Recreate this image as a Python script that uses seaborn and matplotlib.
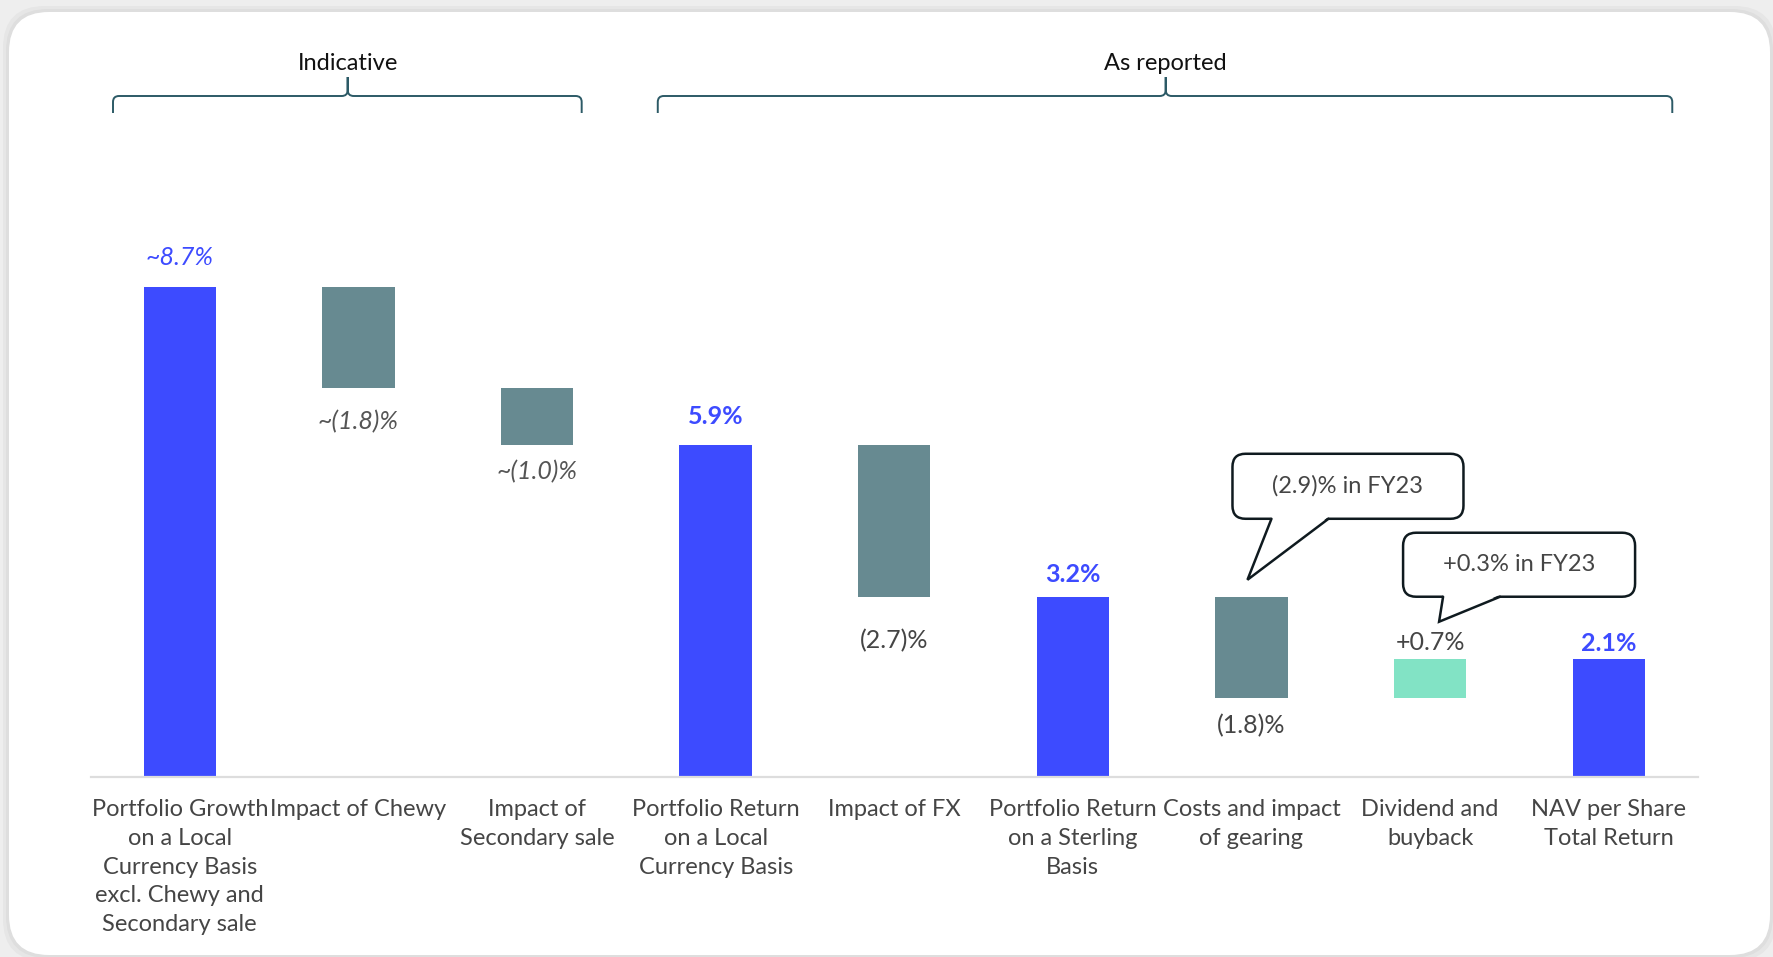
import numpy as np
import pandas as pd
import matplotlib
matplotlib.use("Agg")
import matplotlib.pyplot as plt
import seaborn as sns
from matplotlib.patches import FancyBboxPatch, Polygon, PathPatch
from matplotlib.path import Path
from matplotlib.transforms import IdentityTransform
from matplotlib.lines import Line2D

# ---------------- data ----------------
categories = [
    "Portfolio Growth\non a Local\nCurrency Basis\nexcl. Chewy and\nSecondary sale",
    "Impact of Chewy",
    "Impact of\nSecondary sale",
    "Portfolio Return\non a Local\nCurrency Basis",
    "Impact of FX",
    "Portfolio Return\non a Sterling\nBasis",
    "Costs and impact\nof gearing",
    "Dividend and\nbuyback",
    "NAV per Share\nTotal Return",
]
values = [8.7, -1.8, -1.0, 5.9, -2.7, 3.2, -1.8, 0.7, 2.1]
kinds = ["total", "delta", "delta", "total", "delta", "total", "delta", "delta", "total"]
value_labels = ["~8.7%", "~(1.8)%", "~(1.0)%", "5.9%", "(2.7)%", "3.2%", "(1.8)%", "+0.7%", "2.1%"]
group_names = ["Indicative", "As reported"]
callout_texts = ["(2.9)% in FY23", "+0.3% in FY23"]
callout_bars = [6, 7]

# ---------------- waterfall geometry from the values ----------------
bottoms, heights = [], []
running = 0.0
for v, k in zip(values, kinds):
    if k == "total":
        bottoms.append(0.0)
        heights.append(v)
        running = v
    else:
        new = running + v
        bottoms.append(min(running, new))
        heights.append(abs(v))
        running = new
df = pd.DataFrame({"category": categories, "height": heights})

BLUE = "#3d4bff"
GREY = "#678a91"
MINT = "#82e3c5"
TXT = "#454545"
colors = [BLUE if k == "total" else (GREY if v < 0 else MINT) for v, k in zip(values, kinds)]

# ---------------- figure ----------------
sns.set_theme(style="white")
plt.rcParams["font.family"] = ["Lato", "DejaVu Sans"]

W, H = 1773, 957
fig = plt.figure(figsize=(W / 100, H / 100), dpi=100, facecolor="#eeeeee")

# card with soft shadow
for pad, col in [(6, "#e6e6e6"), (3, "#dedede")]:
    fig.patches.append(FancyBboxPatch((9 - pad, 2 - pad), W - 12 + 2 * pad, 943 + 2 * pad,
                                      boxstyle="round,pad=0,rounding_size=42",
                                      transform=IdentityTransform(), fc=col, ec="none", zorder=-2))
fig.patches.append(FancyBboxPatch((9, 2), W - 12, 943,
                                  boxstyle="round,pad=0,rounding_size=40",
                                  transform=IdentityTransform(), fc="white", ec="none", zorder=-1))

ax = fig.add_axes([90.5 / W, (H - 777) / H, (1698 - 90.5) / W, 563.2 / H])
ax.patch.set_alpha(0)

sns.barplot(data=df, x="category", y="height", bottom=bottoms, width=0.405,
            errorbar=None, ax=ax, linewidth=0, color=BLUE, saturation=1)
for p, c in zip(ax.patches, colors):
    p.set_facecolor(c)
    p.set_edgecolor("none")

ax.set_xlim(-0.5, 8.5)
ax.set_ylim(0, 10)
ax.set_yticks([])
ax.set_xlabel("")
ax.set_ylabel("")
for s in ["top", "right", "left"]:
    ax.spines[s].set_visible(False)
ax.spines["bottom"].set_color("#dddddd")
ax.spines["bottom"].set_linewidth(1.6)
ax.set_xticks(range(len(categories)))
ax.set_xticklabels(categories, fontsize=17, color=TXT, linespacing=1.47)
ax.tick_params(axis="x", length=0, pad=15.5)

# ---------------- value labels ----------------
label_offsets = [30, -33, -27, 28, -44, 22, -27, 16, 15]  # px, + above top, - below bottom
label_styles = [
    dict(color=BLUE, style="italic"),
    dict(color="#555555", style="italic"),
    dict(color="#555555", style="italic"),
    dict(color=BLUE, weight="bold"),
    dict(color=TXT),
    dict(color=BLUE, weight="bold"),
    dict(color=TXT),
    dict(color=TXT),
    dict(color=BLUE, weight="bold"),
]
for i, (lab, off, st) in enumerate(zip(value_labels, label_offsets, label_styles)):
    y = bottoms[i] + heights[i] if off > 0 else bottoms[i]
    ax.annotate(lab, (i, y), xytext=(0, off * 0.72), textcoords="offset points",
                ha="center", va="center", fontsize=18, **st)

# ---------------- callouts ----------------
fig.canvas.draw()
def disp(x, y):
    return ax.transData.transform((x, y))

callout_geom = [
    # tip (dx, dy), box x-range, box y-range (up from anchor), pointer base x-range
    dict(tip=(-4, 17), bx=(-19, 212), by=(78, 143), base=(20, 77)),
    dict(tip=(9, 37), bx=(-27, 205), by=(62, 126), base=(13, 70)),
]
for txt, bi, g in zip(callout_texts, callout_bars, callout_geom):
    ax_, ay_ = disp(bi, bottoms[bi] + heights[bi])
    x0, x1 = ax_ + g["bx"][0], ax_ + g["bx"][1]
    y0, y1 = ay_ + g["by"][0], ay_ + g["by"][1]
    box = FancyBboxPatch((x0, y0), x1 - x0, y1 - y0, boxstyle="round,pad=0,rounding_size=13",
                         transform=IdentityTransform(), fc="white", ec="#0f1a1f", lw=1.8, zorder=5)
    fig.patches.append(box)
    tx, ty = ax_ + g["tip"][0], ay_ + g["tip"][1]
    bl, br = ax_ + g["base"][0], ax_ + g["base"][1]
    fig.patches.append(Polygon([(bl, y0 + 2), (tx, ty), (br, y0 + 2)], closed=True,
                               transform=IdentityTransform(), fc="white", ec="none", zorder=6))
    fig.lines.append(Line2D([bl, tx, br], [y0, ty, y0], transform=IdentityTransform(),
                            color="#0f1a1f", lw=1.8, solid_joinstyle="miter", zorder=7))
    fig.text((x0 + x1) / 2 / W, (y0 + y1) / 2 / H, txt, ha="center", va="center",
             fontsize=17, color=TXT, zorder=8)

# ---------------- group brackets ----------------
bracket_spans = [(-0.374, 2.25, 0.94), (2.676, 8.356, 5.52)]
BR = "#2c5a66"
y_line, y_end, y_tip, r = H - 96, H - 113, H - 77, 6
for name, (a, b, c) in zip(group_names, bracket_spans):
    xa = disp(a, 0)[0]
    xb = disp(b, 0)[0]
    xc = disp(c, 0)[0]
    verts = [(xa, y_end), (xa, y_line - r), (xa, y_line), (xa + r, y_line),
             (xc - r, y_line), (xc, y_line), (xc, y_line + r), (xc, y_tip), (xc, y_line + r),
             (xc, y_line), (xc + r, y_line), (xb - r, y_line), (xb, y_line), (xb, y_line - r),
             (xb, y_end)]
    codes = [Path.MOVETO, Path.LINETO, Path.CURVE3, Path.CURVE3,
             Path.LINETO, Path.CURVE3, Path.CURVE3, Path.LINETO, Path.LINETO,
             Path.CURVE3, Path.CURVE3, Path.LINETO, Path.CURVE3, Path.CURVE3,
             Path.LINETO]
    fig.patches.append(PathPatch(Path(verts, codes), transform=IdentityTransform(),
                                 fc="none", ec=BR, lw=1.4, zorder=5))
    fig.text(xc / W, (H - 63) / H, name, ha="center", va="center", fontsize=17,
             color="#111111")

fig.savefig("out.png", dpi=100, facecolor=fig.get_facecolor())
